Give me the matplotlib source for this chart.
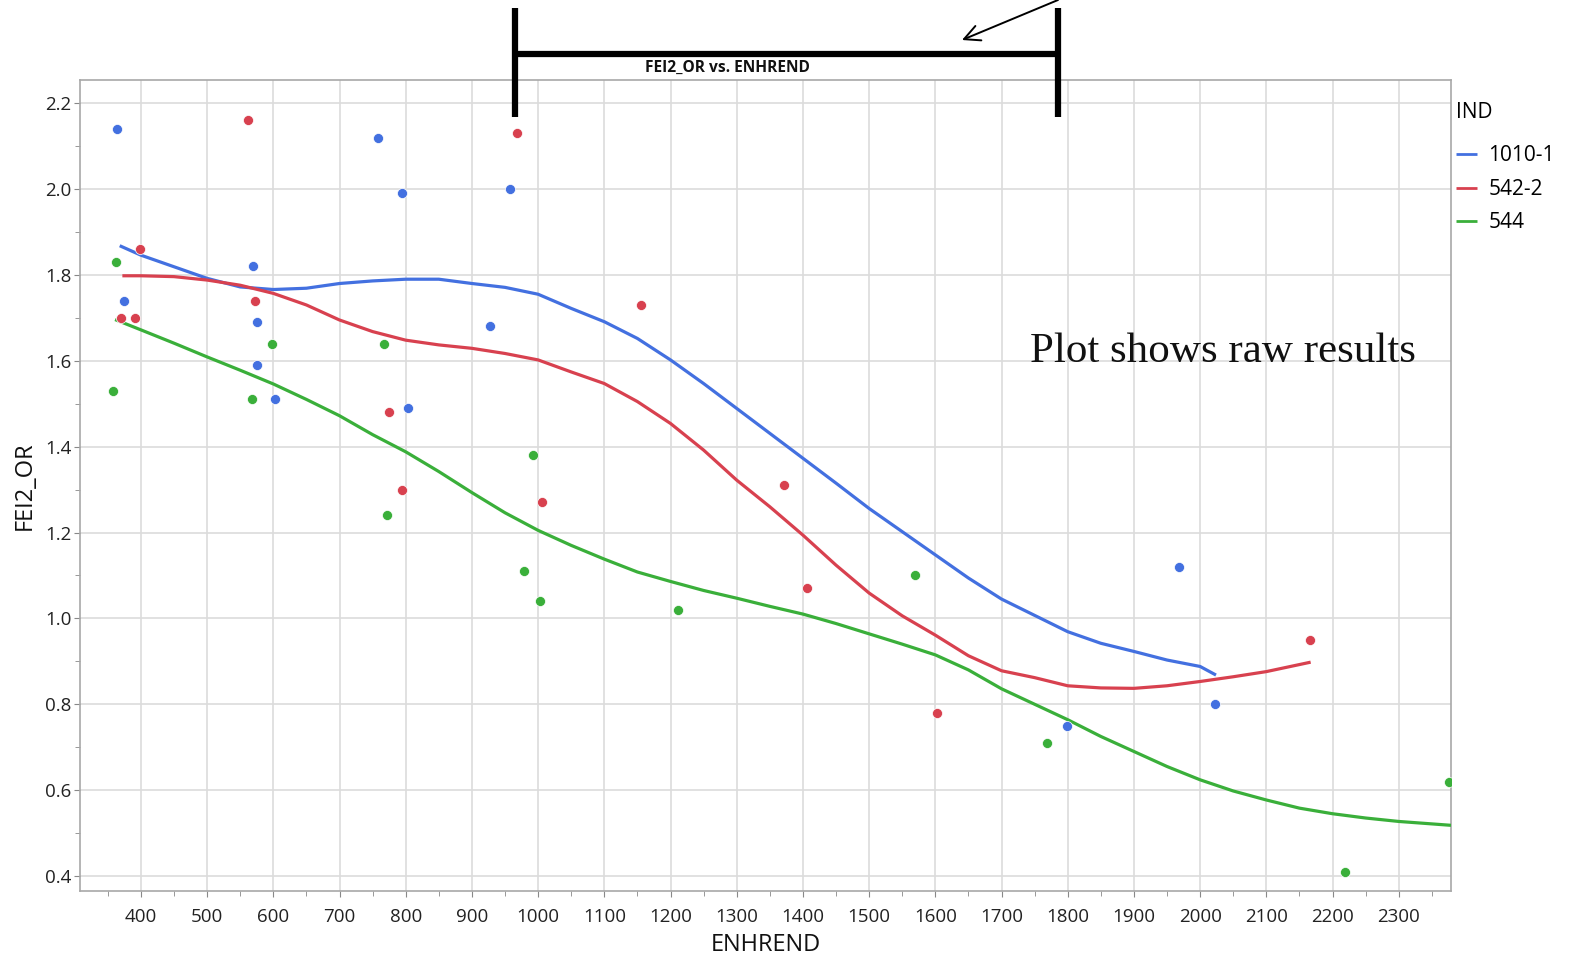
import matplotlib
matplotlib.use('agg')
import matplotlib.pyplot as plt
from matplotlib.lines import Line2D
from matplotlib.ticker import MultipleLocator, FormatStrFormatter

plt.rcParams['font.family'] = ['Open Sans', 'DejaVu Sans']

# raw points per IND
BLUE_X = [364, 374, 569, 575, 575, 602, 758, 794, 803, 927, 957, 1968, 1799, 2022]
BLUE_Y = [2.14, 1.74, 1.82, 1.69, 1.59, 1.51, 2.12, 1.99, 1.49, 1.68, 2.00, 1.12, 0.75, 0.80]

RED_X = [562, 968, 398, 370, 391, 572, 775, 794, 1006, 1155, 1371, 1406, 1602, 2166]
RED_Y = [2.16, 2.13, 1.86, 1.70, 1.70, 1.74, 1.48, 1.30, 1.27, 1.73, 1.31, 1.07, 0.78, 0.95]

GREEN_X = [362, 358, 568, 598, 767, 771, 992, 979, 1003, 1211, 1569, 1769, 2219, 2376]
GREEN_Y = [1.83, 1.53, 1.51, 1.64, 1.64, 1.24, 1.38, 1.11, 1.04, 1.02, 1.10, 0.71, 0.41, 0.62]

# smoother traces read along each fit
BLUE_FIT_X = [368, 400, 450, 500, 550, 600, 650, 700, 750, 800, 850, 900, 950, 1000,
              1050, 1100, 1150, 1200, 1250, 1300, 1350, 1400, 1450, 1500, 1550, 1600,
              1650, 1700, 1750, 1800, 1850, 1900, 1950, 2000, 2024]
BLUE_FIT_Y = [1.868, 1.846, 1.819, 1.792, 1.772, 1.766, 1.769, 1.780, 1.786, 1.790, 1.790,
              1.780, 1.771, 1.755, 1.722, 1.691, 1.652, 1.602, 1.547, 1.489, 1.431, 1.373,
              1.315, 1.256, 1.202, 1.148, 1.094, 1.045, 1.007, 0.969, 0.942, 0.923, 0.903,
              0.888, 0.868]

RED_FIT_X = [372, 400, 450, 500, 550, 600, 650, 700, 750, 800, 850, 900, 950, 1000,
             1050, 1100, 1150, 1200, 1250, 1300, 1350, 1400, 1450, 1500, 1550, 1600,
             1650, 1700, 1750, 1800, 1850, 1900, 1950, 2000, 2050, 2100, 2167]
RED_FIT_Y = [1.798, 1.798, 1.796, 1.788, 1.776, 1.757, 1.730, 1.695, 1.668, 1.648, 1.637,
             1.629, 1.617, 1.602, 1.574, 1.547, 1.505, 1.454, 1.392, 1.322, 1.260, 1.194,
             1.124, 1.059, 1.006, 0.961, 0.913, 0.878, 0.862, 0.843, 0.838, 0.837, 0.843,
             0.853, 0.864, 0.876, 0.898]

GREEN_FIT_X = [361, 400, 450, 500, 550, 600, 650, 700, 750, 800, 850, 900, 950, 1000,
               1050, 1100, 1150, 1200, 1250, 1300, 1350, 1400, 1450, 1500, 1550, 1600,
               1650, 1700, 1750, 1800, 1850, 1900, 1950, 2000, 2050, 2100, 2150, 2200,
               2250, 2300, 2379]
GREEN_FIT_Y = [1.696, 1.672, 1.641, 1.609, 1.578, 1.546, 1.510, 1.472, 1.428, 1.388, 1.342,
               1.293, 1.246, 1.205, 1.170, 1.138, 1.108, 1.086, 1.065, 1.047, 1.028, 1.010,
               0.988, 0.964, 0.940, 0.915, 0.880, 0.836, 0.800, 0.764, 0.725, 0.690, 0.655,
               0.624, 0.598, 0.577, 0.558, 0.545, 0.535, 0.527, 0.518]

LABELS = ['1010-1', '542-2', '544']
COLORS = ['#4370E0', '#D8414F', '#3AAF3A']

W, H = 1569, 959


def main():
    fig = plt.figure(figsize=(W / 100, H / 100), dpi=100)
    ax = fig.add_axes([80 / W, 1 - 891 / H, (1451 - 80) / W, (891 - 80) / H])

    series = [
        (BLUE_X, BLUE_Y, BLUE_FIT_X, BLUE_FIT_Y),
        (RED_X, RED_Y, RED_FIT_X, RED_FIT_Y),
        (GREEN_X, GREEN_Y, GREEN_FIT_X, GREEN_FIT_Y),
    ]
    for (px, py, fx, fy), color, label in zip(series, COLORS, LABELS):
        ax.plot(fx, fy, color=color, lw=2.3, label=label, zorder=3,
                solid_capstyle='butt', solid_joinstyle='round')
        ax.scatter(px, py, s=52, color=color, edgecolors='white', linewidths=0.5,
                   zorder=4)

    ax.set_xlim(308, 2379)
    ax.set_ylim(0.365, 2.254)
    ax.xaxis.set_minor_locator(MultipleLocator(50))
    ax.yaxis.set_major_locator(MultipleLocator(0.2))
    ax.yaxis.set_minor_locator(MultipleLocator(0.1))
    ax.set_xticks(range(400, 2301, 100))
    ax.yaxis.set_major_formatter(FormatStrFormatter('%.1f'))

    ax.grid(True, which='major', color='#dcdcdc', lw=1.2, zorder=0)
    ax.set_axisbelow(True)
    for s in ax.spines.values():
        s.set_color('#a8a8a8')
        s.set_linewidth(1.2)
    ax.tick_params(which='both', color='#888888', labelsize=13.5,
                   labelcolor='#222222', direction='out')
    ax.tick_params(which='major', length=4)
    ax.tick_params(which='minor', length=3.5)
    ax.tick_params(axis='x', which='major', pad=8)
    ax.tick_params(axis='y', which='major', pad=2)

    ax.set_xlabel('ENHREND', fontsize=17, color='#111111', labelpad=5)
    ax.set_ylabel('FEI2_OR', fontsize=17, color='#111111', labelpad=6)

    ax.text(1743, 1.597, 'Plot shows raw results', family='Liberation Serif',
            fontsize=31, color='#111111', va='baseline', ha='left')

    leg = ax.legend(title='IND', loc='upper left',
                    bbox_to_anchor=(1452 / W, 1 - 98 / H),
                    bbox_transform=fig.transFigure, frameon=False, fontsize=15,
                    title_fontsize=15, handlelength=1.0, handletextpad=0.55,
                    labelspacing=0.6, borderaxespad=0, borderpad=0.2)
    leg._legend_box.align = 'left'
    leg._legend_box.sep = 16
    for line in leg.get_lines():
        line.set_linewidth(2)

    # bracket and arrow drawn over the title area
    def fx(x):
        return x / W

    def fy(y):
        return 1 - y / H

    bracket = dict(color='black', lw=4.5, solid_capstyle='butt', transform=fig.transFigure)
    fig.add_artist(Line2D([fx(515), fx(515)], [fy(8), fy(117)], **bracket))
    fig.add_artist(Line2D([fx(1058), fx(1058)], [fy(8), fy(117)], **bracket))
    fig.add_artist(Line2D([fx(515), fx(1058)], [fy(54), fy(54)], **bracket))
    ax.annotate('', xy=(fx(962), fy(40)), xytext=(fx(1058), fy(0)),
                xycoords='figure fraction', textcoords='figure fraction',
                arrowprops=dict(arrowstyle='->', color='black', lw=1.4,
                                mutation_scale=28, shrinkA=0, shrinkB=0))

    fig.text(fx(727), fy(68), 'FEI2_OR vs. ENHREND', fontsize=11.2, fontweight='bold',
             ha='center', va='center', color='#111111')

    plt.savefig('out.png', dpi=100)


if __name__ == '__main__':
    main()
